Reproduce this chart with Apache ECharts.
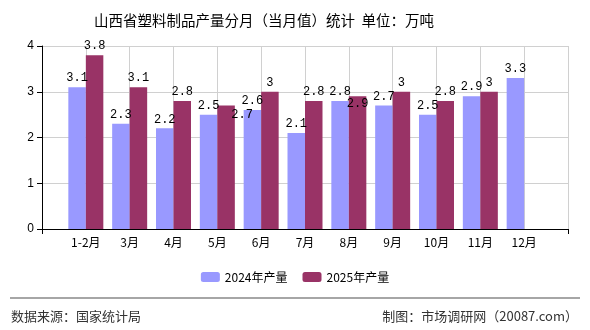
<!DOCTYPE html>
<html>
<head>
<meta charset="utf-8">
<script src="https://cdn.jsdelivr.net/npm/echarts@6/dist/echarts.min.js"></script>
<style>
html,body{margin:0;padding:0;background:#fff;}
#c{width:590px;height:330px;}
</style>
</head>
<body>
<div id="c"></div>
<script>
var categories = ['1-2月','3月','4月','5月','6月','7月','8月','9月','10月','11月','12月'];
var values2024 = [3.1,2.3,2.2,2.5,2.6,2.1,2.8,2.7,2.5,2.9,3.3];
var values2025 = [3.8,3.1,2.8,2.7,3,2.8,2.9,3,2.8,3,null];
var yTicks = [0,1,2,3,4];
var seriesNames = ['2024年产量','2025年产量'];

var xData = [''].concat(categories).concat(['']);
function pad(arr){ return ['-'].concat(arr.map(function(v){return v==null?'-':v;})).concat(['-']); }

var d2025 = pad(values2025).map(function(v, i){
  if (i === 4) return {value: v, label: {offset: [16, 18]}};
  if (i === 7) return {value: v, label: {position: 'insideTop', distance: 2}};
  return v;
});

var chart = echarts.init(document.getElementById('c'));
var cjk = '"Noto Sans CJK SC", sans-serif';
var labelFont = {color:'#000', fontSize: 12, fontFamily: '"Liberation Mono", "DejaVu Sans Mono", monospace'};
chart.setOption({
  animation: false,
  title: {
    text: '山西省塑料制品产量分月（当月值）统计  单位：万吨',
    left: 89, top: 8,
    textStyle: {fontSize: 14.5, fontWeight: 'normal', color: '#000', fontFamily: cjk}
  },
  legend: {
    data: seriesNames,
    bottom: 42, left: 'center',
    itemWidth: 19, itemHeight: 10, itemGap: 15,
    textStyle: {fontSize: 12, color: '#000', fontFamily: cjk}
  },
  grid: {left: 42, right: 22, top: 46, bottom: 101},
  xAxis: {
    type: 'category',
    data: xData,
    boundaryGap: false,
    axisLine: {lineStyle: {color: '#000'}},
    axisTick: {show: true, interval: function(i){ return i === 0 || i === xData.length - 1; }, length: 5, lineStyle:{color:'#000'}},
    axisLabel: {interval: 0, color: '#000', fontSize: 12, margin: 7, fontFamily: cjk},
    splitLine: {show: true, interval: 0, lineStyle: {color: '#d0d0d0'}}
  },
  yAxis: {
    type: 'value',
    min: yTicks[0], max: yTicks[yTicks.length-1], interval: 1,
    axisLine: {show: true, lineStyle: {color: '#000'}},
    axisTick: {show: true, length: 5, lineStyle:{color:'#000'}},
    axisLabel: {color: '#000', fontSize: 12, margin: 8, fontFamily: 'sans-serif'},
    splitLine: {lineStyle: {color: '#d0d0d0'}}
  },
  graphic: [
    {type: 'line', shape: {x1: 10, y1: 298, x2: 580, y2: 298}, style: {stroke: '#888', lineWidth: 1.5}},
    {type: 'text', left: 11, top: 310, style: {text: '数据来源：国家统计局', fill: '#333', font: '13px "Noto Sans CJK SC", sans-serif'}},
    {type: 'text', right: 12, top: 310, style: {text: '制图：市场调研网（20087.com）', fill: '#333', font: '13px "Noto Sans CJK SC", sans-serif'}}
  ],
  series: [
    {
      name: seriesNames[0], type: 'bar', data: pad(values2024),
      barWidth: 17.5, barGap: '0%',
      itemStyle: {color: '#9999FF'},
      label: Object.assign({show: true, position: 'top', distance: 3}, labelFont)
    },
    {
      name: seriesNames[1], type: 'bar', data: d2025,
      barWidth: 17.5, barGap: '0%',
      itemStyle: {color: '#993366'},
      label: Object.assign({show: true, position: 'top', distance: 3}, labelFont)
    }
  ]
});
</script>
</body>
</html>
